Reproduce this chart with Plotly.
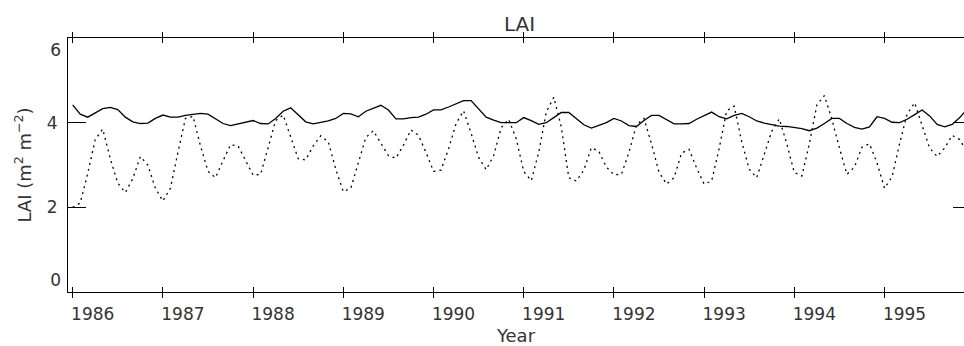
import plotly.graph_objects as go

# Monthly samples, Jan 1986 .. Dec 1995
years_start = 1986
n_months = 120
x_vals = [years_start + i / 12 for i in range(n_months)]

lai_solid = [
    4.42, 4.20, 4.13, 4.24, 4.33, 4.36, 4.31, 4.13, 4.02, 3.98,
    3.99, 4.10, 4.18, 4.13, 4.13, 4.17, 4.20, 4.22, 4.20, 4.08,
    3.98, 3.93, 3.97, 4.02, 4.05, 3.98, 3.97, 4.10, 4.27, 4.35,
    4.18, 4.02, 3.97, 4.01, 4.04, 4.10, 4.22, 4.21, 4.14, 4.27,
    4.34, 4.41, 4.30, 4.09, 4.09, 4.12, 4.13, 4.20, 4.30, 4.30,
    4.37, 4.44, 4.52, 4.52, 4.32, 4.13, 4.06, 4.00, 4.00, 4.00,
    4.12, 4.05, 3.96, 4.00, 4.12, 4.24, 4.24, 4.09, 3.95, 3.87,
    3.93, 4.00, 4.10, 4.04, 3.93, 3.91, 4.05, 4.17, 4.17, 4.06,
    3.97, 3.97, 3.98, 4.08, 4.17, 4.25, 4.14, 4.09, 4.17, 4.22,
    4.14, 4.04, 3.99, 3.95, 3.92, 3.91, 3.89, 3.86, 3.81, 3.87,
    3.98, 4.10, 4.10, 3.98, 3.89, 3.85, 3.90, 4.14, 4.10, 4.01,
    4.00, 4.08, 4.19, 4.30, 4.16, 3.96, 3.90, 3.96, 4.12, 4.32,
]

lai_dotted = [
    2.00, 2.10, 2.80, 3.60, 3.85, 3.15, 2.57, 2.35, 2.68, 3.20,
    3.00, 2.45, 2.15, 2.45, 3.30, 4.10, 4.15, 3.45, 2.85, 2.70,
    3.10, 3.48, 3.45, 3.10, 2.76, 2.78, 3.40, 4.05, 4.18, 3.65,
    3.15, 3.12, 3.45, 3.69, 3.55, 2.90, 2.37, 2.45, 3.04, 3.65,
    3.81, 3.50, 3.22, 3.16, 3.47, 3.83, 3.70, 3.30, 2.85, 2.88,
    3.38, 3.98, 4.28, 3.75, 3.18, 2.89, 3.22, 3.88, 4.08, 3.62,
    2.85, 2.63, 3.30, 4.25, 4.60, 3.90, 2.70, 2.62, 2.88, 3.41,
    3.32, 2.95, 2.77, 2.78, 3.30, 3.95, 4.10, 3.50, 2.83, 2.55,
    2.70, 3.28, 3.37, 2.93, 2.55, 2.62, 3.39, 4.28, 4.39, 3.55,
    2.90, 2.70, 3.24, 3.80, 4.09, 3.50, 2.82, 2.74, 3.50, 4.42,
    4.64, 4.08, 3.40, 2.78, 2.95, 3.42, 3.50, 3.05, 2.45, 2.72,
    3.50, 4.20, 4.47, 3.95, 3.40, 3.20, 3.40, 3.70, 3.60, 3.30,
]

year_ticks = list(range(1986, 1996))
y_ticks_mid = [2, 4]
y_tick_top = [6]
y_tick_bottom = [0]

FONT = "DejaVu Sans"
TXT = "#333333"

fig = go.Figure()
fig.add_trace(go.Scatter(x=x_vals, y=lai_solid, mode="lines",
                         line=dict(color="black", width=1.3), showlegend=False))
fig.add_trace(go.Scatter(x=x_vals, y=lai_dotted, mode="lines",
                         line=dict(color="black", width=1.3, dash="2px,4px"),
                         showlegend=False))
# empty traces so the auxiliary tick axes get drawn
fig.add_trace(go.Scatter(x=[], y=[], yaxis="y2", showlegend=False))
fig.add_trace(go.Scatter(x=[], y=[], yaxis="y3", showlegend=False))
fig.add_trace(go.Scatter(x=[], y=[], yaxis="y4", showlegend=False))

fig.update_layout(
    width=964, height=346,
    margin=dict(l=68, r=0, t=38, b=54),
    paper_bgcolor="white", plot_bgcolor="white",
    font=dict(family=FONT, size=17, color=TXT),
    title=dict(text="LAI", x=0.504, xref="paper", xanchor="center",
               y=1 - 24 / 346, yref="container", yanchor="middle",
               font=dict(family=FONT, size=20, color=TXT)),
    xaxis=dict(range=[1985.948, 1995.881], tickvals=year_ticks,
               ticktext=[str(y) for y in year_ticks],
               ticks="inside", ticklen=5, tickcolor="black", tickwidth=1,
               showline=True, linecolor="black", linewidth=1.2, mirror="allticks",
               showgrid=False, zeroline=False, ticklabelshift=20,
               ticklabelstandoff=6,
               title=dict(text="Year", standoff=6,
                          font=dict(family=FONT, size=18, color=TXT))),
    yaxis=dict(range=[0, 6], tickvals=y_ticks_mid,
               ticktext=[str(v) for v in y_ticks_mid],
               ticks="inside", ticklen=18, tickcolor="black", tickwidth=1,
               showline=True, linecolor="black", linewidth=1.2, mirror=False,
               showgrid=False, zeroline=False, ticklabelstandoff=6,
               title=dict(text="LAI (m<sup>2</sup> m<sup>\u22122</sup>)", standoff=10,
                          font=dict(family=FONT, size=18, color=TXT))),
    yaxis2=dict(range=[0, 6], overlaying="y", side="right", anchor="x",
                tickvals=y_ticks_mid, ticks="inside", ticklen=11, tickcolor="black",
                tickwidth=1, showline=False, showticklabels=False,
                showgrid=False, zeroline=False),
    yaxis3=dict(range=[0, 6], overlaying="y", side="left", anchor="x",
                tickvals=y_tick_top, ticktext=[str(v) for v in y_tick_top],
                ticks="", showline=False,
                ticklabelposition="outside bottom", ticklabelstandoff=6,
                showgrid=False, zeroline=False),
    yaxis4=dict(range=[0, 6], overlaying="y", side="left", anchor="x",
                tickvals=y_tick_bottom, ticktext=[str(v) for v in y_tick_bottom],
                ticks="", showline=False,
                ticklabelposition="outside top", ticklabelstandoff=6,
                showgrid=False, zeroline=False),
)

fig.write_html("out.html")
